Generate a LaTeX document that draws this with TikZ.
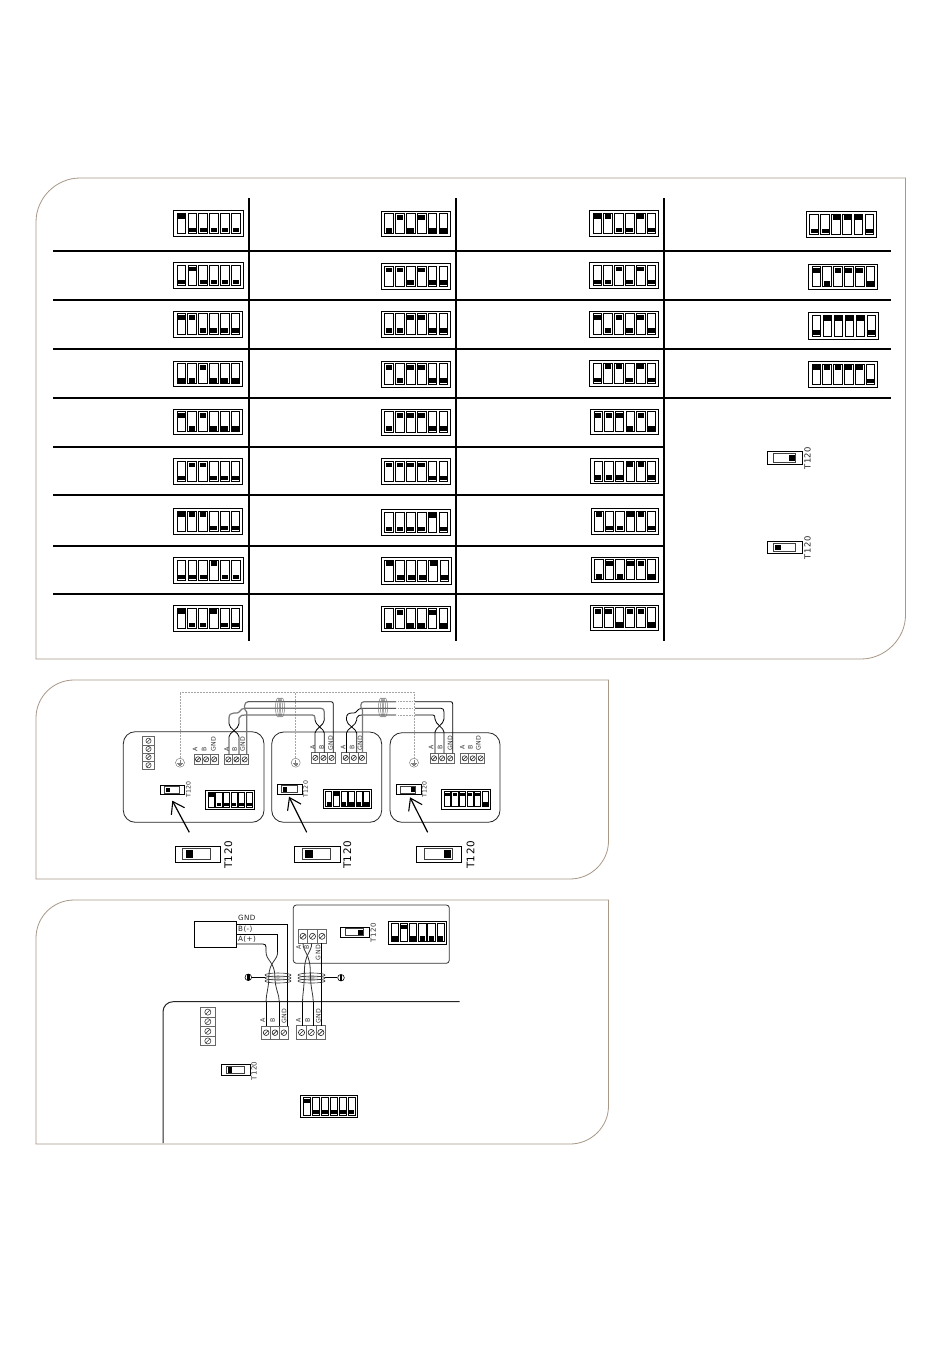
\documentclass[tikz,border=0pt]{standalone}
\usepackage{fontspec}
\setmainfont{DejaVu Sans}
\newfontfamily\dvs[LetterSpace=5]{DejaVu Sans}
\usetikzlibrary{arrows.meta,calc}
\definecolor{framec}{HTML}{A89888}
\definecolor{wireg}{HTML}{777777}
\definecolor{termg}{HTML}{666666}
\tikzset{
  frameline/.style={draw=framec,line width=0.8pt},
  tableline/.style={draw=black,line width=2pt},
  wire/.style={draw=black,line width=0.8pt},
  greywire/.style={draw=wireg,line width=1.2pt},
  dotline/.style={draw=gray!70,line width=0.5pt,densely dotted},
  panelbox/.style={draw=black!85,line width=0.8pt,rounded corners=12pt},
  coil/.style={draw=wireg,line width=0.5pt},
  pointer/.style={draw=black,line width=1.2pt,-{Straight Barb[length=11pt,width=15pt,line width=1.1pt]}},
  earthg/.style={circle,draw=gray,line width=0.5pt,minimum size=9pt,inner sep=0pt},
  earthb/.style={circle,draw=black,line width=0.6pt,minimum size=6.6pt,inner sep=0pt},
  tinylab/.style={inner sep=0pt,rotate=90,text=black!80,font=\dvs\fontsize{6.2}{7}\selectfont},
  wirelab/.style={inner sep=0pt,anchor=west,text=black!85,font=\dvs\fontsize{7.2}{8}\selectfont},
  tsmall/.style={inner sep=0pt,rotate=90,text=black!80,font=\dvs\fontsize{6.2}{7}\selectfont},
  tlarge/.style={inner sep=0pt,rotate=90,text=black!80,font=\dvs\fontsize{7}{8}\selectfont},
  tmid/.style={inner sep=0pt,rotate=90,text=black!85,font=\dvs\fontsize{8.4}{9}\selectfont},
  tbig/.style={inner sep=0pt,rotate=90,text=black,font=\dvs\fontsize{10.4}{11}\selectfont},
}
% DIP block: x0 y0 x1 y1 {bits}
\newcommand{\dipblock}[5]{%
  \pgfmathsetmacro{\ds}{(#3-#1)/70}%
  \pgfmathsetmacro{\dk}{(#4-#2)/26.5}%
  \draw[black,line width=0.9pt] (#1,#2) rectangle (#3,#4);
  \foreach \b [count=\i from 0] in {#5} {
    \pgfmathsetmacro{\xa}{#1+(3.7+10.93*\i)*\ds}
    \pgfmathsetmacro{\xb}{\xa+8.7*\ds}
    \pgfmathsetmacro{\ya}{#2+2.9*\dk}
    \pgfmathsetmacro{\yb}{#4-2.9*\dk}
    \draw[black,line width=0.8pt] (\xa,\ya) rectangle (\xb,\yb);
    \ifnum\b=1
      \fill[black] ({\xa+1.0*\ds},{\ya+1.4*\dk}) rectangle ({\xb-1.0*\ds},{\ya+6.2*\dk});
    \else
      \fill[black] ({\xa+1.0*\ds},{\yb-6.2*\dk}) rectangle ({\xb-1.0*\ds},{\yb-1.4*\dk});
    \fi
  }
}
% slider: x0 y0 x1 y1 blockstart
\newcommand{\sliderbox}[5]{%
  \pgfmathsetmacro{\sw}{#3-#1}%
  \pgfmathsetmacro{\sh}{#4-#2}%
  \draw[black,line width=0.8pt] (#1,#2) rectangle (#3,#4);
  \draw[black!75,line width=0.9pt] ({#1+.17*\sw},{#2+.16*\sh}) rectangle ({#1+.79*\sw},{#4-.16*\sh});
  \fill[black] ({#1+#5*\sw},{#2+.26*\sh}) rectangle ({#1+#5*\sw+.17*\sw},{#4-.26*\sh});
}
% horizontal terminal: x0 y0 x1 y1
\newcommand{\termrow}[4]{%
  \pgfmathsetmacro{\tw}{(#3-#1)/3}%
  \pgfmathsetmacro{\tc}{(#2+#4)/2}%
  \pgfmathsetmacro{\tr}{min(\tw,#4-#2)*0.32}%
  \draw[termg,line width=0.7pt] (#1,#2) rectangle (#3,#4);
  \foreach \i in {0,1,2} {
    \pgfmathsetmacro{\cx}{#1+(\i+.5)*\tw}
    \draw[termg,line width=0.7pt] ({#1+\i*\tw},#2) -- ({#1+\i*\tw},#4);
    \draw[black!85,line width=0.6pt] (\cx,\tc) circle[radius=\tr];
    \draw[black!85,line width=0.6pt] ({\cx-\tr*.7},{\tc+\tr*.7}) -- ({\cx+\tr*.7},{\tc-\tr*.7});
  }
}
% vertical 4-screw strip: x0 y0 x1 y1
\newcommand{\termcol}[4]{%
  \pgfmathsetmacro{\th}{(#4-#2)/4}%
  \pgfmathsetmacro{\tc}{(#1+#3)/2}%
  \pgfmathsetmacro{\tr}{\th*0.32}%
  \draw[termg,line width=0.7pt] (#1,#2) rectangle (#3,#4);
  \foreach \i in {0,1,2,3} {
    \pgfmathsetmacro{\cy}{#2+(\i+.5)*\th}
    \draw[termg,line width=0.7pt] (#1,{#2+\i*\th}) -- (#3,{#2+\i*\th});
    \draw[black!75,line width=0.6pt] (\tc,\cy) circle[radius=\tr];
    \draw[black!75,line width=0.6pt] ({\tc-\tr*.7},{\cy+\tr*.7}) -- ({\tc+\tr*.7},{\cy-\tr*.7});
  }
}
% twisted pair in diagram 2: xl xr ybot ymid ytop
\newcommand{\twistup}[5]{%
  \draw[wire] (#1,#3) -- (#1,{#4+5}) .. controls (#1,{#4+1}) and (#2,{#4-3}) .. (#2,{#4-8}) -- (#2,#5);
  \draw[wire] (#2,#3) -- (#2,{#4+5}) .. controls (#2,{#4+1}) and (#1,{#4-3}) .. (#1,{#4-8}) -- (#1,#5);
}
% twisted pair with lens, diagram 3: top-left top-right ytop ybot bottom-left bottom-right
\newcommand{\twistlens}[6]{%
  \pgfmathsetmacro{\mx}{(#1+#2)/2}%
  \pgfmathsetmacro{\my}{(#3+#4)/2}%
  \draw[wire,black!80] (#1,#3) .. controls (#1,{#3+9}) and ({\mx+3},{#3+10}) .. ({\mx+3},\my) .. controls ({\mx+3},{#4-14}) and (#6,{#4-7}) .. (#6,#4);
  \draw[wire,black!80] (#2,#3) .. controls (#2,{#3+9}) and ({\mx-3},{#3+10}) .. ({\mx-3},\my) .. controls ({\mx-3},{#4-14}) and (#5,{#4-7}) .. (#5,#4);
}
\newcommand{\earthsym}[1]{%
  \draw[gray,line width=0.5pt] ($(#1)+(-2.6,0.3)$) -- ($(#1)+(2.6,0.3)$);
  \draw[gray,line width=0.5pt] ($(#1)+(-1.8,1.6)$) -- ($(#1)+(1.8,1.6)$);
  \draw[gray,line width=0.5pt] ($(#1)+(-1,2.9)$) -- ($(#1)+(1,2.9)$);
  \draw[gray,line width=0.5pt] ($(#1)+(0,-3)$) -- ($(#1)+(0,0.3)$);
}
\begin{document}
\begin{tikzpicture}[x=1pt,y=-1pt]
\useasboundingbox (0,0) rectangle (950,1360);
\fill[white] (0,0) rectangle (950,1360);

% ---------- frames
\draw[frameline] (36,222) .. controls (36,198) and (56,178) .. (80,178) -- (905.5,178) -- (905.5,615) .. controls (905.5,639) and (885,659) .. (861,659) -- (36,659) -- cycle;
\draw[frameline] (36,718) .. controls (36,697) and (53,680) .. (74,680) -- (608.5,680) -- (608.5,841) .. controls (608.5,862) and (591,879) .. (570,879) -- (36,879) -- cycle;
\draw[frameline] (36,938) .. controls (36,917) and (53,900) .. (74,900) -- (608.5,900) -- (608.5,1106) .. controls (608.5,1127) and (591,1144) .. (570,1144) -- (36,1144) -- cycle;

% ---------- table
\foreach \yy in {250.7,300,349,397.7}
  \draw[tableline] (53,\yy) -- (890.7,\yy);
\foreach \yy in {447,495,545.7,593.7}
  \draw[tableline] (53,\yy) -- (663.7,\yy);
\foreach \xx in {249,456,663.7}
  \draw[tableline] (\xx,198) -- (\xx,641);

\dipblock{173.3}{210}{243.3}{236.7}{1,0,0,0,0,0}
\dipblock{173.3}{262.3}{243.3}{288.5}{0,1,0,0,0,0}
\dipblock{173.3}{311}{242.7}{337.3}{1,1,0,0,0,0}
\dipblock{173.3}{361}{242.7}{386.7}{0,0,1,0,0,0}
\dipblock{173.3}{409}{242.7}{434.7}{1,0,1,0,0,0}
\dipblock{173.3}{458.3}{242.7}{484.7}{0,1,1,0,0,0}
\dipblock{173.3}{508}{242.7}{534.7}{1,1,1,0,0,0}
\dipblock{173.3}{557}{243.3}{583.7}{0,0,0,1,0,0}
\dipblock{173.3}{605}{242.7}{631.7}{1,0,0,1,0,0}

\dipblock{381}{211}{450.7}{236.7}{0,1,0,1,0,0}
\dipblock{381}{263.3}{450.7}{289.3}{1,1,0,1,0,0}
\dipblock{381}{311}{450.7}{337.3}{0,0,1,1,0,0}
\dipblock{381}{361}{450.7}{387.3}{1,0,1,1,0,0}
\dipblock{381}{409}{450.7}{435}{0,1,1,1,0,0}
\dipblock{381}{458.3}{450.7}{484.7}{1,1,1,1,0,0}
\dipblock{381}{509}{450.7}{535.7}{0,0,0,0,1,0}
\dipblock{381}{557}{451.7}{584}{1,0,0,0,1,0}
\dipblock{381}{606}{450.7}{631.7}{0,1,0,0,1,0}

\dipblock{589.3}{210}{658.7}{236.7}{1,1,0,0,1,0}
\dipblock{589.3}{262.3}{658.7}{288.7}{0,0,1,0,1,0}
\dipblock{589.3}{311}{658.7}{337}{1,0,1,0,1,0}
\dipblock{589.3}{360}{658.7}{386.7}{0,1,1,0,1,0}
\dipblock{590.3}{409}{658.7}{434.7}{1,1,1,0,1,0}
\dipblock{590.3}{458.3}{658.7}{483.7}{0,0,0,1,1,0}
\dipblock{591}{508}{658.7}{534.7}{1,0,0,1,1,0}
\dipblock{591}{557}{658.7}{582.7}{0,1,0,1,1,0}
\dipblock{590}{605}{658.7}{630.7}{1,1,0,1,1,0}

\dipblock{806}{211}{876.7}{237.7}{0,0,1,1,1,0}
\dipblock{808.3}{264}{877.7}{289.7}{1,0,1,1,1,0}
\dipblock{808.3}{312}{878.7}{339}{0,1,1,1,1,0}
\dipblock{808.3}{361}{877.7}{387.7}{1,1,1,1,1,0}

\sliderbox{767.3}{451}{802.7}{464.7}{.6}
\node[tmid] (tabt1) at (807.5,458.3) {T120};
\sliderbox{767.3}{541.3}{802.7}{553.7}{.22}
\node[tmid] (tabt2) at (807.5,547.8) {T120};

% ---------- diagram 2 panels
\draw[panelbox] (123.3,731.7) rectangle (264,822.3);
\draw[panelbox] (271.7,732) rectangle (381.7,822.3);
\draw[panelbox] (390,732.7) rectangle (500,822.3);

\termcol{142.3}{736.7}{154.7}{769.3}

\termrow{194}{754.3}{218.3}{764.3}
\termrow{224.3}{754.3}{248.7}{764.5}
\termrow{311.3}{752.5}{335.7}{763.3}
\termrow{341.7}{752.5}{366}{763.3}
\termrow{430}{753.3}{454.3}{763.3}
\termrow{460.7}{753.3}{484.7}{763.3}

\node[tinylab] (a1) at (195,749) {A};
\node[tinylab] (b1) at (204,749) {B};
\node[tinylab,anchor=west] (g1) at (213.3,752) {GND};
\node[tinylab] (a2) at (226.7,749) {A};
\node[tinylab] (b2) at (234.5,749) {B};
\node[tinylab,anchor=west] (g2) at (242.7,752) {GND};
\node[tinylab] (a3) at (312.7,747.5) {A};
\node[tinylab] (b3) at (321.7,747.5) {B};
\node[tinylab,anchor=west] (g3) at (330.7,750.5) {GND};
\node[tinylab] (a4) at (343,747.5) {A};
\node[tinylab] (b4) at (352,747.5) {B};
\node[tinylab,anchor=west] (g4) at (360,750.5) {GND};
\node[tinylab] (a5) at (431,747.5) {A};
\node[tinylab] (b5) at (440,747.5) {B};
\node[tinylab,anchor=west] (g5) at (450,751) {GND};
\node[tinylab] (a6) at (462.3,747.5) {A};
\node[tinylab] (b6) at (470.3,747.5) {B};
\node[tinylab,anchor=west] (g6) at (478.3,751) {GND};

% earth + dotted shield
\node[earthg] (e1) at (180,762.7) {};
\node[earthg] (e2) at (295.7,762.7) {};
\node[earthg] (e3) at (414,762.7) {};
\earthsym{e1} \earthsym{e2} \earthsym{e3}
\coordinate (dl) at (180,692);
\coordinate (dm) at (295.7,692);
\coordinate (dr) at (414,692);
\draw[dotline] (e1) -- (dl) -- (dr) -- (e3);
\draw[dotline] (e2) -- (dm);

% cable 1
\twistup{229}{239}{754.3}{731.7}{718}
\draw[greywire] (229,718) .. controls (229,714.5) and (231,713) .. (234,713) -- (237,713) .. controls (240,713) and (240,708.3) .. (245,708.3) -- (321,708.3) .. controls (323,708.3) and (324.3,709.5) .. (324.3,712) -- (324.3,718);
\draw[greywire] (239,718) .. controls (240,715) and (243,715) .. (245,715) -- (312.5,715) .. controls (314,715) and (315,716) .. (315,718);
\draw[greywire] (246.7,754.3) -- (246.7,712) .. controls (243.5,710) and (243.5,701.7) .. (248,701.7);
\draw[wire] (248,701.7) -- (331,701.7) .. controls (332.5,701.7) and (333.3,702.5) .. (333.3,704) -- (333.3,752.5);
\twistup{315}{324.3}{752.5}{728}{718}

% cable 2
\twistup{346.5}{356.7}{752.5}{728}{718}
\draw[wire] (346.5,718) .. controls (346.5,714.5) and (348.5,713) .. (351.7,713) -- (354,713) .. controls (357,713) and (357,708.3) .. (362,708.3) -- (396,708.3);
\draw[wire] (356.7,718) .. controls (357.7,715) and (360,715) .. (362,715) -- (396,715);
\draw[greywire] (362.5,752.5) -- (362.5,710) .. controls (360,708) and (360,701.7) .. (364,701.7) -- (396,701.7);
\draw[dotline] (398,701.7) -- (413,701.7);
\draw[dotline] (398,708.3) -- (413,708.3);
\draw[dotline] (398,715) -- (413,715);
\draw[wire] (415,701.7) -- (450.7,701.7) .. controls (452,701.7) and (452.7,702.5) .. (452.7,704) -- (452.7,753.3);
\draw[wire] (415,708.3) -- (441,708.3) .. controls (443,708.3) and (444,709.5) .. (444,712) -- (444,719);
\draw[wire] (415,715) -- (433,715) .. controls (434.5,715) and (435,716) .. (435,719);
\twistup{435}{444}{753.3}{727}{719}

% coils
\foreach \cx in {278,280,282}
  \draw[coil] (\cx,707.5) ellipse[x radius=2.5,y radius=9.5];
\foreach \cx in {381,383,385}
  \draw[coil] (\cx,707.5) ellipse[x radius=2.5,y radius=9.5];

% panel sliders, dips
\sliderbox{160.3}{785}{184}{794.7}{.22}
\node[tsmall] (pt1) at (188.3,789.5) {T120};
\sliderbox{277.3}{784}{302.7}{794.3}{.22}
\node[tsmall] (pt2) at (305.7,789.3) {T120};
\sliderbox{396.7}{784.3}{421}{794.7}{.6}
\node[tsmall] (pt3) at (424.3,789.5) {T120};
\dipblock{205.7}{790}{254.3}{809.3}{1,0,0,0,0,0}
\dipblock{323.3}{789.3}{371.7}{808.7}{0,1,0,0,0,0}
\dipblock{441.7}{789.3}{490.3}{809}{1,1,1,1,1,0}

% big sliders
\sliderbox{175}{846}{220}{862.3}{.24}
\node[tbig] (bt1) at (228.3,855) {T120};
\sliderbox{294.3}{846}{340}{862.5}{.24}
\node[tbig] (bt2) at (347.3,855) {T120};
\sliderbox{416.7}{846}{461.7}{862.5}{.6}
\node[tbig] (bt3) at (470.7,855) {T120};

% pointers
\coordinate (p1s) at (189.3,832.3); \coordinate (p1t) at (172.3,800.7);
\coordinate (p2s) at (306.7,832.3); \coordinate (p2t) at (289,796.7);
\coordinate (p3s) at (427.7,832.3); \coordinate (p3t) at (410,797.3);
\draw[pointer] (p1s) -- (p1t);
\draw[pointer] (p2s) -- (p2t);
\draw[pointer] (p3s) -- (p3t);

% ---------- diagram 3
\node[draw=black,line width=0.8pt,minimum width=42pt,minimum height=25.6pt,inner sep=0pt] (mast) at (215,934.5) {};
\node[wirelab] (lgnd) at (238,918.3) {GND};
\node[wirelab] (lbm) at (238,929.6) {B(-)};
\node[wirelab] (lap) at (238,939.3) {A(+)};

\draw[draw=black!80,line width=0.8pt,rounded corners=3pt] (293.3,905) rectangle (449.3,963.3);
\draw[draw=black!85,line width=1pt,rounded corners=10pt] (163,1143) -- (163,1001.7) -- (459.5,1001.7);

\termrow{298.3}{929.3}{326.7}{943.3}
\termrow{261.7}{1026}{288.3}{1039.3}
\termrow{296.7}{1025.7}{325.7}{1039.3}
\termcol{200.7}{1007.3}{215}{1045.7}

\node[tinylab] (u1) at (298.5,947.5) {A};
\node[tinylab] (u2) at (306.5,947.5) {B};
\node[tinylab,anchor=east] (u3) at (318,945) {GND};
\node[tinylab] (d1) at (262.7,1020.5) {A};
\node[tinylab] (d2) at (272.7,1020.5) {B};
\node[tinylab,anchor=west] (d3) at (284,1024) {GND};
\node[tinylab] (d4) at (298.3,1020.5) {A};
\node[tinylab] (d5) at (307.7,1020.5) {B};
\node[tinylab,anchor=west] (d6) at (318.3,1024) {GND};

% wires left pair
\coordinate (mg) at (236,924);
\coordinate (mb) at (236,934);
\coordinate (ma) at (236,944);
\draw[wire] (mg) -- (287.7,924) -- (287.7,1026);
\draw[wire] (mb) -- (277.7,934) -- (277.7,951.7);
\draw[wire] (ma) -- (263,944) .. controls (265,944) and (266,945) .. (266,947) -- (266,951.7);
\twistlens{266}{277.7}{951.7}{1001.7}{266}{279.3}
\draw[wire] (266,1001.7) -- (266,1026);
\draw[wire] (279.3,1001.7) -- (279.3,1026);

% wires right pair
\draw[wire] (321,943.3) -- (321,1025.7);
\twistlens{303}{311.7}{943.3}{1001.7}{302.5}{313.3}
\draw[wire] (302.5,1001.7) -- (302.5,1025.7);
\draw[wire] (313.3,1001.7) -- (313.3,1025.7);

% coils + earths
\node[earthb] (eL) at (248.3,977.3) {};
\node[earthb] (eR) at (341,977.7) {};
\fill[black] (247.3,974.2) rectangle (249.8,980.4);
\fill[black] (339.8,974.6) rectangle (342.3,980.8);
\coordinate (cLe) at (265,977.3);
\coordinate (cRe) at (325,977.7);
\draw[wire] (eL) -- (cLe);
\draw[wire] (eR) -- (cRe);
\foreach \cy in {975,978,981}
  \draw[draw=black!80,line width=0.6pt] (278,\cy) ellipse[x radius=13,y radius=2];
\foreach \cy in {975,978,981}
  \draw[draw=black!80,line width=0.6pt] (311.5,\cy) ellipse[x radius=13.5,y radius=2];

\sliderbox{340}{927.3}{369.3}{937.3}{.6}
\node[tlarge] (ut) at (373.3,932.8) {T120};
\dipblock{388.3}{921}{446.7}{944.3}{0,1,0,0,0,0}
\sliderbox{221.3}{1064.3}{250}{1075.7}{.22}
\node[tlarge] (lt) at (254,1071) {T120};
\dipblock{300.3}{1095.3}{357.7}{1117.7}{1,0,0,0,0,0}
\end{tikzpicture}
\end{document}
